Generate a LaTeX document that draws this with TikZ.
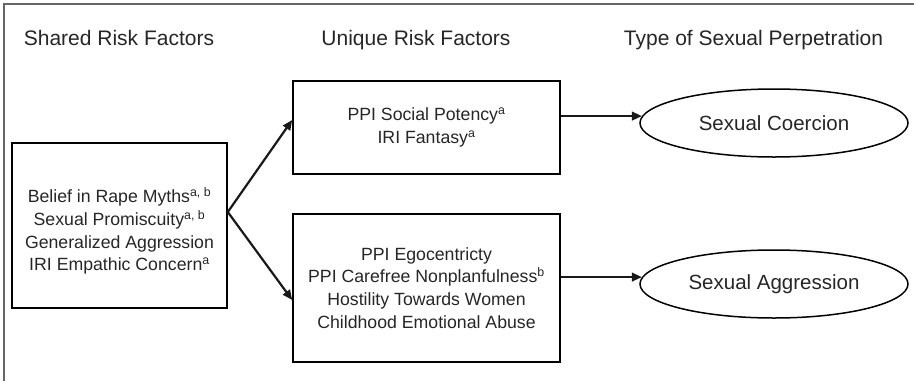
\documentclass[tikz,border=0pt]{standalone}
\usepackage{fontspec}
\setmainfont{Liberation Sans}
\usetikzlibrary{shapes.geometric,arrows.meta,calc}
\begin{document}
\begin{tikzpicture}[x=1pt,y=-1pt,
  hdr/.style={font=\fontsize{21}{25}\selectfont, inner sep=0pt, anchor=base},
  factbox/.style={draw=black, line width=1.6pt, inner sep=0pt},
  boxtext/.style={font=\fontsize{17.7}{22.7}\selectfont, align=center, inner sep=0pt, text=black!85},
  outcome/.style={ellipse, draw, line width=1.5pt, minimum width=268pt, minimum height=68pt,
    inner sep=0pt, font=\fontsize{20.5}{24}\selectfont, text=black!85},
  arr/.style={-{Triangle[length=10pt,width=8.5pt]}, line width=2.2pt, draw=black!90}
]
\useasboundingbox (0,0) rectangle (914,381);
\draw[black!60, line width=1.5pt] (914,4) -- (4,4) -- (4,381);

% headers
\node[hdr, text=black!85] (h1) at (119,45) {Shared Risk Factors};
\node[hdr, text=black!85] (h2) at (416,45) {Unique Risk Factors};
\node[hdr, text=black!85] (h3) at (753.5,45) {Type of Sexual Perpetration};

% shared box
\node[factbox, minimum width=215pt, minimum height=165pt] (shared) at (119.5,225.5) {};
\node[boxtext] (sharedtxt) at (119.5,231) {Belief in Rape Myths\textsuperscript{a, b}\\
  Sexual Promiscuity\textsuperscript{a, b}\\
  Generalized Aggression\\
  IRI Empathic Concern\textsuperscript{a}};

% unique boxes
\node[factbox, boxtext, minimum width=267pt, minimum height=93pt] (uniq1) at (426.5,127.5)
  {PPI Social Potency\textsuperscript{a}\\ IRI Fantasy\textsuperscript{a}};
\node[factbox, boxtext, minimum width=267pt, minimum height=148pt] (uniq2) at (426.5,288)
  {PPI Egocentricty\\ PPI Carefree Nonplanfulness\textsuperscript{b}\\
   Hostility Towards Women\\ Childhood Emotional Abuse};

% outcomes
\node[outcome] (coerc) at (774,123) {Sexual Coercion};
\node[outcome] (aggr) at (774,284) {Sexual Aggression};

% connectors
\coordinate (apex) at ([yshift=13.5pt]shared.east);
\draw[arr] (apex) -- ([yshift=7.5pt]uniq1.west);
\draw[arr] (apex) -- ([yshift=-12pt]uniq2.west);
\draw[arr] (uniq1.east |- coerc.177.8) -- (coerc.177.8);
\draw[arr] (uniq2.east |- aggr.177.8) -- (aggr.177.8);
\end{tikzpicture}
\end{document}
